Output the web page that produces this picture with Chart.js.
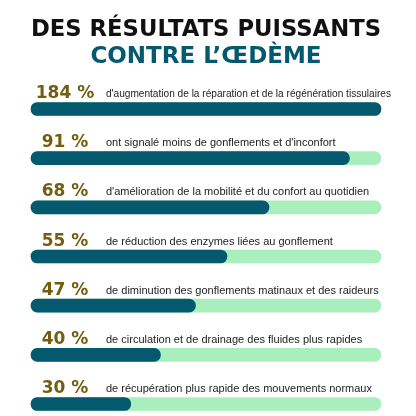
<!DOCTYPE html>
<html>
<head>
<meta charset="utf-8">
<script src="https://cdn.jsdelivr.net/npm/chart.js@4"></script>
<style>
  html, body { margin: 0; padding: 0; background: #ffffff; }
  #wrap { width: 416px; height: 416px; }
</style>
</head>
<body>
<div id="wrap"><canvas id="grafico"></canvas></div>
<script>
// etiquetas de los porcentajes (texto) y descripciones
const porcentajes = ["184 %", "91 %", "68 %", "55 %", "47 %", "40 %", "30 %"];
const descripciones = [
    "d'augmentation de la réparation et de la régénération tissulaires",
    "ont signalé moins de gonflements et d'inconfort",
    "d'amélioration de la mobilité et du confort au quotidien",
    "de réduction des enzymes liées au gonflement",
    "de diminution des gonflements matinaux et des raideurs",
    "de circulation et de drainage des fluides plus rapides",
    "de récupération plus rapide des mouvements normaux"
];
// largo de la barra oscura (0-100)
const valores = [100, 91, 68, 56, 47, 37, 28.5];
const fondo = [100, 100, 100, 100, 100, 100, 100];

const teal = "#04596e";
const verde = "#a9efbe";
const oliva = "#735e0f";

// plugin para escribir el % y el texto arriba de cada barra
const etiquetas = {
    id: "etiquetas",
    afterDatasetsDraw(chart) {
        const ctx = chart.ctx;
        const meta = chart.getDatasetMeta(0);
        ctx.save();
        ctx.textBaseline = "alphabetic";
        for (let i = 0; i < meta.data.length; i++) {
            const y = meta.data[i].y;
            ctx.fillStyle = oliva;
            ctx.font = "bold 17px 'DejaVu Sans'";
            ctx.textAlign = "center";
            ctx.fillText(porcentajes[i], 65, y - 11);
            // el texto largo se aprieta para que no pase el final de la barra
            ctx.fillStyle = "#222222";
            ctx.font = "11px 'Liberation Sans'";
            ctx.textAlign = "left";
            ctx.fillText(descripciones[i], 106, y - 12, 285);
        }
        ctx.restore();
    }
};

const chart = new Chart(document.getElementById("grafico"), {
    type: "bar",
    data: {
        labels: porcentajes,
        datasets: [
            {
                data: valores,
                backgroundColor: teal,
                order: 0
            },
            {
                data: fondo,
                backgroundColor: verde,
                order: 1
            }
        ]
    },
    options: {
        indexAxis: "y",
        responsive: true,
        maintainAspectRatio: false,
        animation: false,
        datasets: {
            bar: {
                grouped: false,
                barThickness: 13,
                borderRadius: 7,
                borderSkipped: false,
                clip: false
            }
        },
        layout: { padding: { left: 31, right: 35, top: 0, bottom: 12 } },
        scales: {
            x: { min: 0, max: 100, display: false },
            y: { display: false, offset: false }
        },
        plugins: {
            legend: { display: false },
            tooltip: { enabled: false },
            title: {
                display: true,
                text: "DES RÉSULTATS PUISSANTS",
                color: "#111111",
                font: { family: "'DejaVu Sans'", size: 23, weight: "bold", lineHeight: 1 },
                padding: { top: 19, bottom: 2 }
            },
            subtitle: {
                display: true,
                text: "CONTRE L’ŒDÈME",
                color: teal,
                font: { family: "'DejaVu Sans'", size: 23, weight: "bold", lineHeight: 1 },
                padding: { top: 2, bottom: 40 }
            }
        }
    },
    plugins: [etiquetas]
});
</script>
</body>
</html>
